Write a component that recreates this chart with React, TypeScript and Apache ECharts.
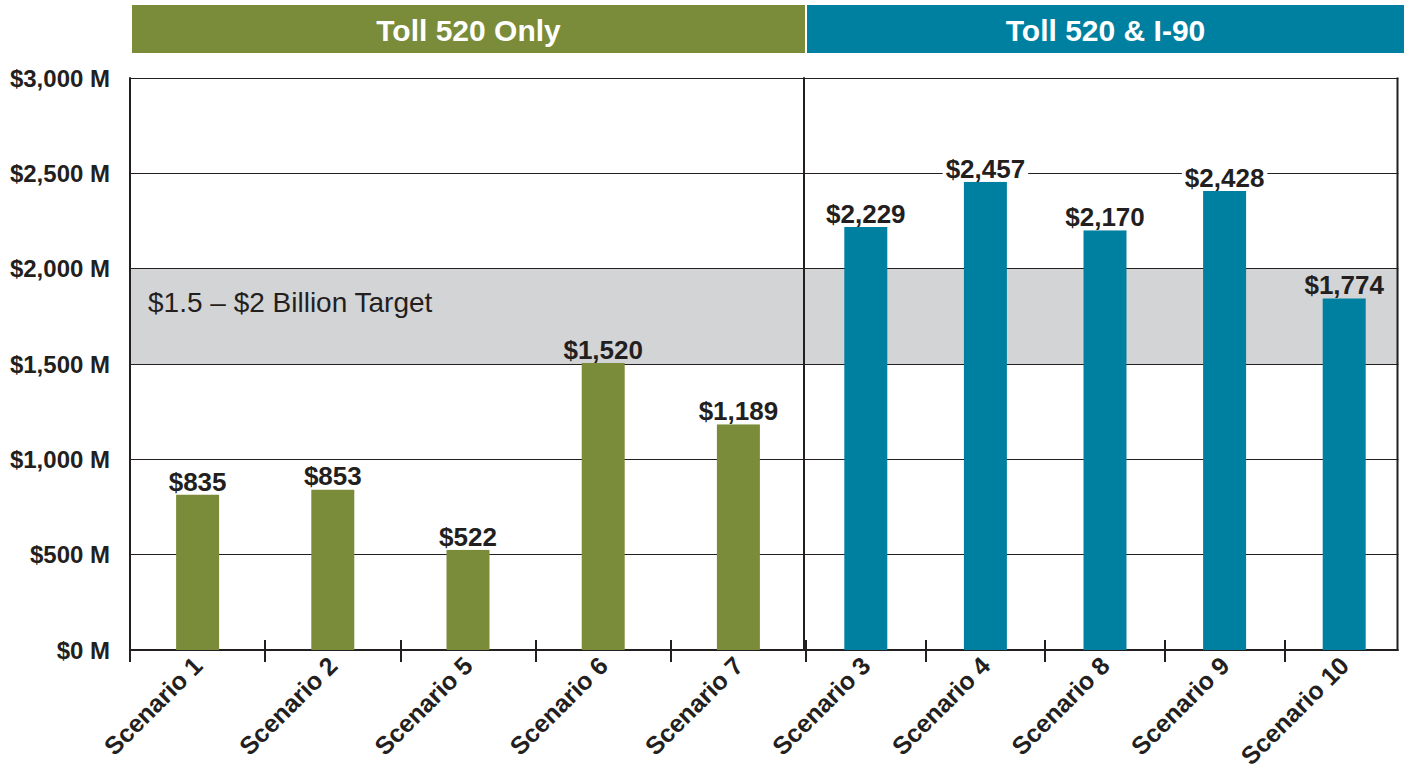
import React, { useEffect, useRef } from "react";
import * as echarts from "echarts";

const leftCategories = ["Scenario 1", "Scenario 2", "Scenario 5", "Scenario 6", "Scenario 7"];
const leftValues = [815, 842, 526, 1505, 1184];
const leftLabels = ["$835", "$853", "$522", "$1,520", "$1,189"];

const rightCategories = ["Scenario 3", "Scenario 4", "Scenario 8", "Scenario 9", "Scenario 10"];
const rightValues = [2219, 2456, 2202, 2407, 1844];
const rightLabels = ["$2,229", "$2,457", "$2,170", "$2,428", "$1,774"];

const groupTitles = ["Toll 520 Only", "Toll 520 & I-90"];
const bandRange = [1500, 2000];
const bandTitle = "$1.5 – $2 Billion Target";
const yTicks = [0, 500, 1000, 1500, 2000, 2500, 3000];

const DARK = "#231f20";
const GREEN = "#7a8c39";
const TEAL = "#0080a1";
const GRAY = "#d3d4d6";
const FONT = "'Liberation Sans', Arial, sans-serif";
const CLEAR = "rgba(0,0,0,0)";

function xAxes(gridIndex: number, data: string[]) {
  return [
    {
      gridIndex,
      type: "category",
      data,
      position: "bottom",
      axisLine: { show: true, lineStyle: { color: DARK, width: 2 } },
      axisTick: { show: true, length: 12, lineStyle: { color: DARK, width: 2 } },
      axisLabel: {
        interval: 0,
        rotate: 45,
        margin: 11,
        fontSize: 25,
        fontWeight: "bold",
        color: DARK,
        fontFamily: FONT,
      },
      splitLine: { show: false },
    },
    {
      gridIndex,
      type: "category",
      data,
      position: "bottom",
      axisLine: { show: false },
      axisTick: { show: true, inside: true, length: 10, lineStyle: { color: DARK, width: 2 } },
      axisLabel: { show: false },
      splitLine: { show: false },
    },
  ];
}

function yAxis(gridIndex: number, showLabels: boolean) {
  const bandIdx = yTicks.indexOf(bandRange[0]);
  return {
    gridIndex,
    type: "value",
    min: yTicks[0],
    max: yTicks[yTicks.length - 1],
    interval: yTicks[1] - yTicks[0],
    offset: showLabels ? 0 : 2,
    axisLine: { show: true, lineStyle: { color: DARK, width: 2 } },
    axisTick: { show: false },
    axisLabel: {
      show: showLabels,
      margin: 20,
      fontSize: 24,
      fontWeight: "bold",
      color: DARK,
      fontFamily: FONT,
      formatter: (v: number) => "$" + v.toLocaleString("en-US") + " M",
    },
    splitLine: { show: true, lineStyle: { color: DARK, width: 1 } },
    splitArea: {
      show: true,
      areaStyle: {
        color: yTicks.slice(0, -1).map((_, i) => (i === bandIdx ? GRAY : CLEAR)),
      },
    },
  };
}

function barSeries(idx: number, values: number[], labels: string[], color: string) {
  return {
    type: "bar",
    xAxisIndex: idx * 2,
    yAxisIndex: idx,
    barWidth: 43,
    itemStyle: { color },
    data: values.map((v) => ({
      value: v,
      label: {
        backgroundColor: v >= bandRange[0] - 100 && v <= bandRange[1] ? CLEAR : "#ffffff",
      },
    })),
    label: {
      show: true,
      position: "top",
      distance: 0,
      padding: [0, 3],
      fontSize: 26,
      fontWeight: "bold",
      color: DARK,
      fontFamily: FONT,
      formatter: (p: any) => labels[p.dataIndex],
    },
  };
}

export default function App() {
  const ref = useRef<HTMLDivElement>(null);
  useEffect(() => {
    document.body.style.margin = "0";
    const chart = echarts.init(ref.current!, null, { renderer: "svg" });
    chart.setOption({
      animation: false,
      grid: [
        { left: 130, top: 78, width: 676, height: 572 },
        { left: 806, top: 78, width: 598, height: 572 },
      ],
      xAxis: [...xAxes(0, leftCategories), ...xAxes(1, rightCategories)],
      yAxis: [yAxis(0, true), yAxis(1, false)],
      series: [
        barSeries(0, leftValues, leftLabels, GREEN),
        barSeries(1, rightValues, rightLabels, TEAL),
      ],
      graphic: [
        { type: "rect", z: 10, shape: { x: 132, y: 5, width: 673, height: 48 }, style: { fill: GREEN } },
        { type: "rect", z: 10, shape: { x: 807, y: 5, width: 597, height: 48 }, style: { fill: TEAL } },
        {
          type: "text",
          z: 11,
          x: 468.5,
          y: 30,
          style: {
            text: groupTitles[0],
            fill: "#ffffff",
            font: `bold 30px ${FONT}`,
            align: "center",
            verticalAlign: "middle",
          },
        },
        {
          type: "text",
          z: 11,
          x: 1105.5,
          y: 30,
          style: {
            text: groupTitles[1],
            fill: "#ffffff",
            font: `bold 30px ${FONT}`,
            align: "center",
            verticalAlign: "middle",
          },
        },
        {
          type: "text",
          z: 20,
          x: 148,
          y: 302,
          style: {
            text: bandTitle,
            fill: DARK,
            font: `28px ${FONT}`,
            align: "left",
            verticalAlign: "middle",
          },
        },
        {
          type: "rect",
          z: 50,
          shape: { x: 1398.5, y: 70, width: 10, height: 600 },
          style: { fill: "#ffffff" },
        },
        {
          type: "line",
          z: 51,
          shape: { x1: 1397.5, y1: 77.5, x2: 1397.5, y2: 651 },
          style: { stroke: DARK, lineWidth: 2 },
        },
      ],
    });
    return () => chart.dispose();
  }, []);
  return <div ref={ref} style={{ width: 1404, height: 778 }} />;
}
